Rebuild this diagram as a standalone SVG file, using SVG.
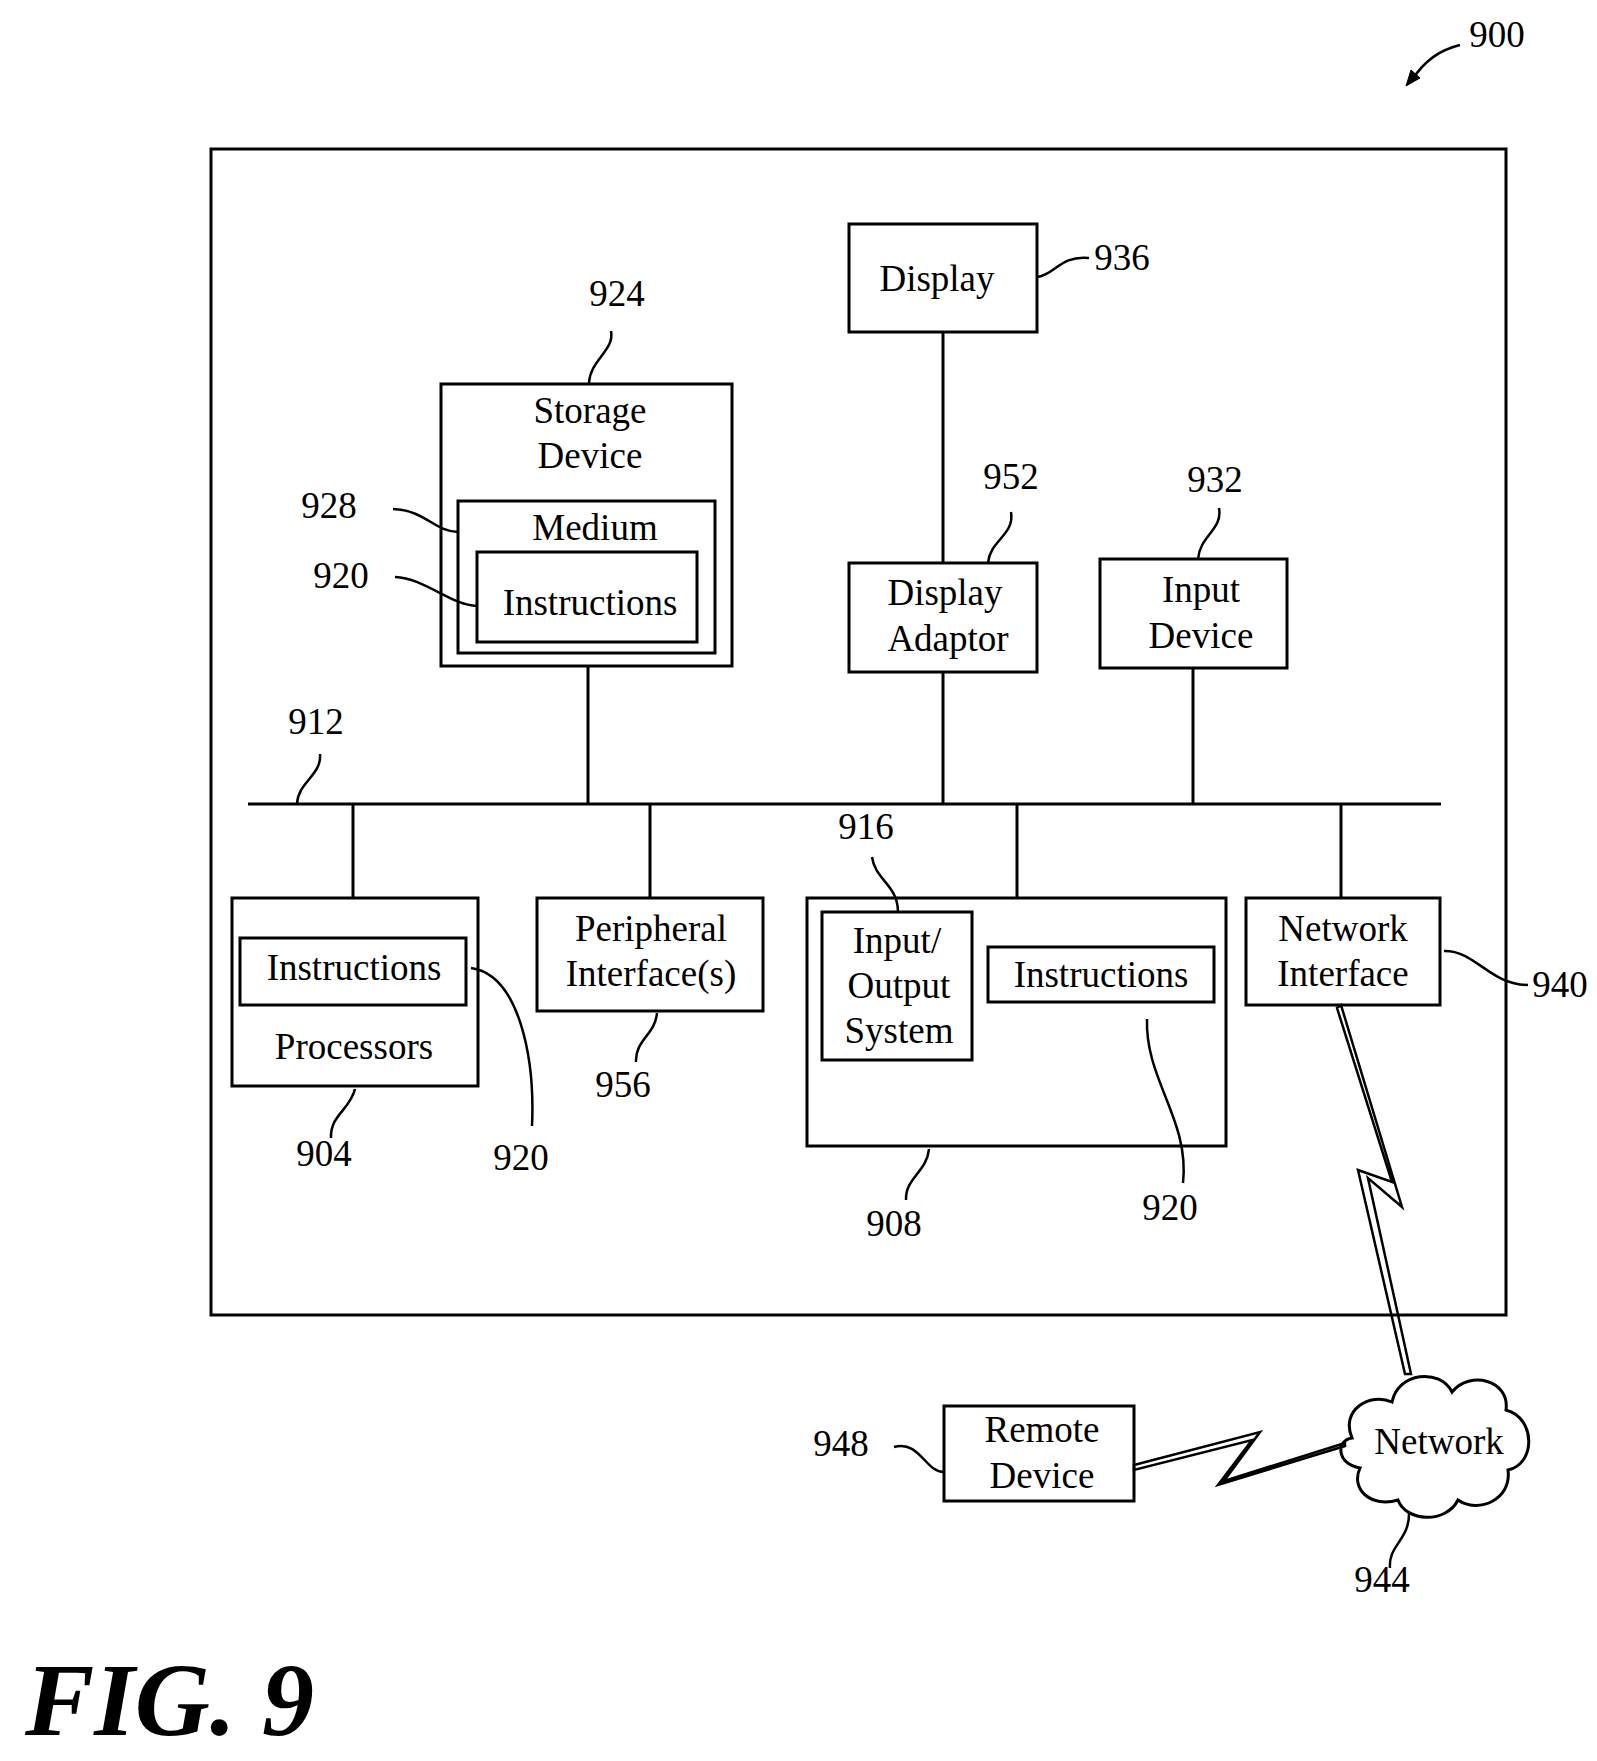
<svg xmlns="http://www.w3.org/2000/svg" width="1597" height="1761" viewBox="0 0 1597 1761">
<style>
rect,path,line,polygon{fill:none;stroke:#000;stroke-width:3}
text{font-family:"Liberation Serif",serif;font-size:37px;fill:#000;text-anchor:middle}
.lead{stroke-width:2.5}
</style>
<rect width="1597" height="1761" fill="#fff" style="stroke:none"/>
<g id="system"><rect x="211" y="149" width="1295" height="1166"/></g>
<g id="display"><rect x="849" y="224" width="188" height="108"/><text x="937" y="291">Display</text></g>
<g id="storage"><rect x="441" y="384" width="291" height="282"/><text x="590" y="423">Storage</text><text x="590" y="468">Device</text>
<g id="medium"><rect x="458" y="501" width="257" height="152"/><text x="595" y="540">Medium</text>
<g id="instr1"><rect x="477" y="552" width="220" height="90"/><text x="590" y="615">Instructions</text></g></g></g>
<g id="adaptor"><rect x="849" y="563" width="188" height="109"/><text x="945" y="605">Display</text><text x="948" y="651">Adaptor</text></g>
<g id="input"><rect x="1100" y="559" width="187" height="109"/><text x="1201" y="602">Input</text><text x="1201" y="648">Device</text></g>
<g id="processors"><rect x="232" y="898" width="246" height="188"/><text x="354" y="1059">Processors</text>
<g id="instr2"><rect x="240" y="938" width="226" height="67"/><text x="354" y="980">Instructions</text></g></g>
<g id="peripheral"><rect x="537" y="898" width="226" height="113"/><text x="651" y="941">Peripheral</text><text x="651" y="986">Interface(s)</text></g>
<g id="io"><rect x="807" y="898" width="419" height="248"/>
<g id="iosys"><rect x="822" y="912" width="150" height="148"/><text x="897" y="953">Input/</text><text x="899" y="998">Output</text><text x="899" y="1043">System</text></g>
<g id="instr3"><rect x="988" y="947" width="226" height="55"/><text x="1101" y="987">Instructions</text></g></g>
<g id="netif"><rect x="1246" y="898" width="194" height="107"/><text x="1343" y="941">Network</text><text x="1343" y="986">Interface</text></g>
<g id="remote"><rect x="944" y="1406" width="190" height="95"/><text x="1042" y="1442">Remote</text><text x="1042" y="1488">Device</text></g>
<g id="network"><path d="M1352,1438 C1340,1410 1370,1392 1392,1402 C1398,1372 1440,1368 1452,1392 C1470,1370 1510,1380 1506,1410 C1536,1418 1536,1464 1508,1470 C1512,1500 1478,1514 1458,1500 C1446,1524 1406,1522 1398,1500 C1372,1508 1350,1490 1360,1468 C1336,1464 1336,1440 1352,1438 Z"/><text x="1439" y="1454">Network</text></g>
<g id="connectors">
<line x1="248" y1="804" x2="1441" y2="804"/>
<line x1="353" y1="804" x2="353" y2="898"/>
<line x1="588" y1="666" x2="588" y2="804"/>
<line x1="650" y1="804" x2="650" y2="898"/>
<line x1="943" y1="332" x2="943" y2="563"/>
<line x1="943" y1="672" x2="943" y2="804"/>
<line x1="1017" y1="804" x2="1017" y2="898"/>
<line x1="1193" y1="668" x2="1193" y2="804"/>
<line x1="1341" y1="804" x2="1341" y2="898"/>
<polygon points="1341,1005 1402,1207 1368,1178 1411,1374 1405,1374 1358,1170 1392,1182 1337,1008" style="stroke-width:2.5"/>
<polygon points="1134,1465 1260,1432 1224,1481 1345,1443 1345,1446 1218,1485 1252,1440 1134,1470" style="stroke-width:2.5"/>
<g class="lead">
<path class="lead" d="M1460,45 C1440,50 1425,60 1412,80"/><polygon points="1406,86 1411,70 1420,78" style="fill:#000;stroke-width:1"/>
<path class="lead" d="M1037,277 C1055,275 1060,255 1089,258"/>
<path class="lead" d="M611,331 C615,350 590,360 589,383"/>
<path class="lead" d="M393,509 C425,510 435,532 458,532"/>
<path class="lead" d="M395,577 C425,578 450,605 477,606"/>
<path class="lead" d="M1011,512 C1015,535 990,540 988,563"/>
<path class="lead" d="M1219,508 C1223,530 1200,535 1198,559"/>
<path class="lead" d="M320,754 C322,775 298,782 297,804"/>
<path class="lead" d="M872,857 C875,880 898,885 898,912"/>
<path class="lead" d="M1444,951 C1475,950 1490,985 1528,985"/>
<path class="lead" d="M355,1089 C350,1110 330,1115 331,1138"/>
<path class="lead" d="M471,968 C520,975 535,1060 532,1126"/>
<path class="lead" d="M657,1013 C655,1035 635,1040 636,1062"/>
<path class="lead" d="M929,1149 C927,1172 905,1178 906,1200"/>
<path class="lead" d="M1147,1019 C1145,1080 1190,1120 1183,1183"/>
<path class="lead" d="M894,1447 C920,1440 925,1472 944,1472"/>
<path class="lead" d="M1409,1512 C1410,1540 1388,1545 1390,1568"/>
</g></g>
<g id="labels">
<text x="1497" y="47">900</text>
<text x="1122" y="270">936</text>
<text x="617" y="306">924</text>
<text x="329" y="518">928</text>
<text x="341" y="588">920</text>
<text x="1011" y="489">952</text>
<text x="1215" y="492">932</text>
<text x="316" y="734">912</text>
<text x="866" y="839">916</text>
<text x="1560" y="997">940</text>
<text x="324" y="1166">904</text>
<text x="521" y="1170">920</text>
<text x="623" y="1097">956</text>
<text x="894" y="1236">908</text>
<text x="1170" y="1220">920</text>
<text x="841" y="1456">948</text>
<text x="1382" y="1592">944</text>
<text x="25" y="1735" style="text-anchor:start;font-size:104px;font-weight:bold;font-style:italic">FIG. 9</text>
</g>
</svg>
